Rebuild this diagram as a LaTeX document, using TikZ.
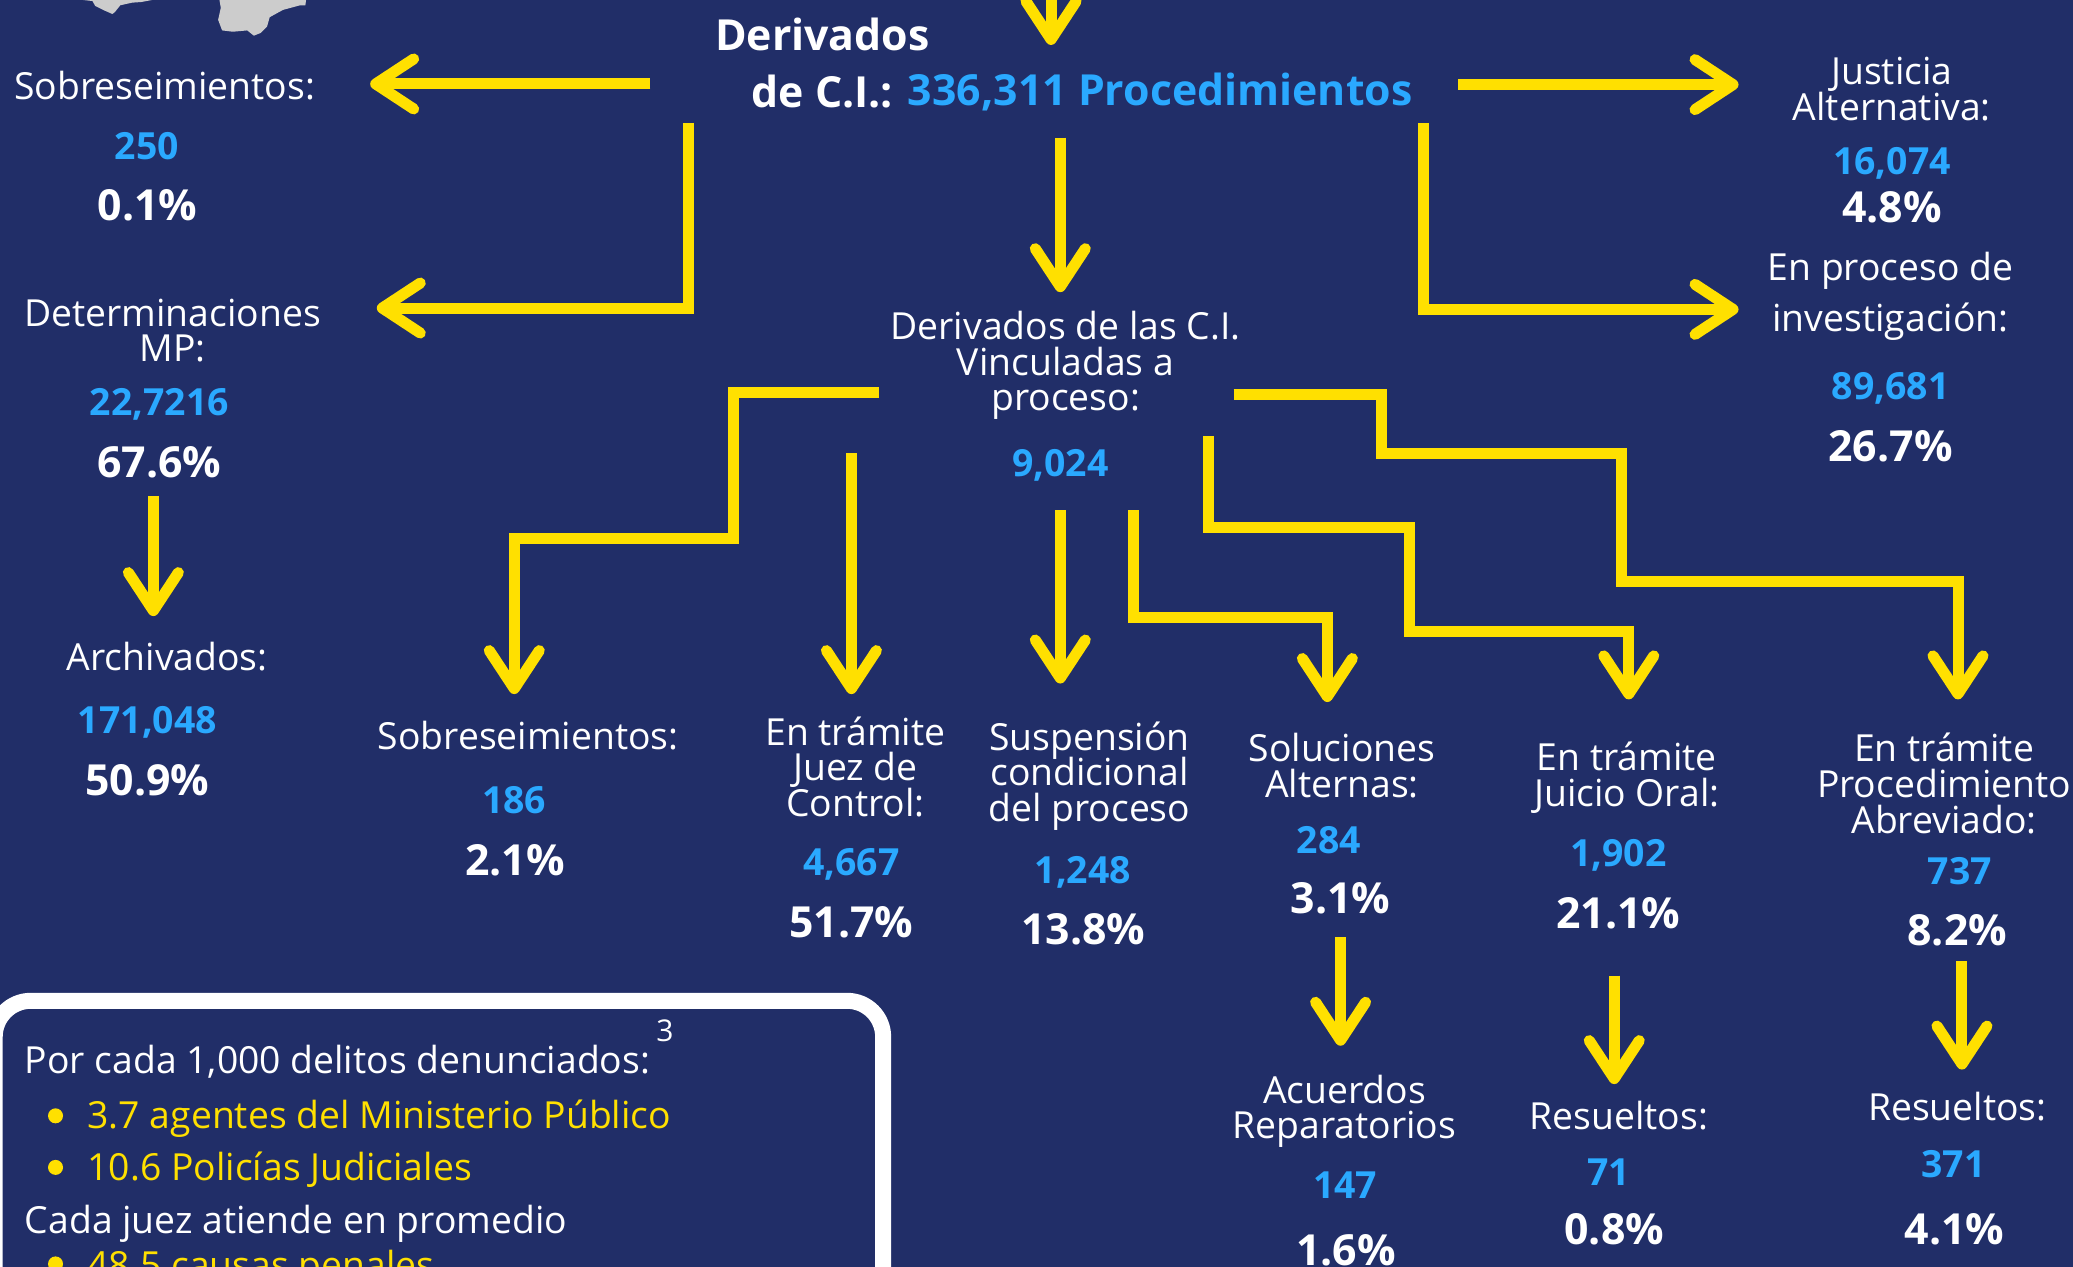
\documentclass[tikz,border=0pt]{standalone}
\usepackage{fontspec}
\setmainfont{Open Sans}
\usetikzlibrary{arrows.meta}
\definecolor{bgblue}{HTML}{212E68}
\definecolor{arrowyellow}{HTML}{FFE000}
\definecolor{numblue}{HTML}{2AA9FF}
\definecolor{mapgray}{HTML}{CCCCCC}
\newcommand{\lblfont}{\fontsize{18.65}{17.85}\selectfont\lineskiplimit=-100pt\relax}
\newcommand{\numfont}{\fontsize{18.7}{20}\selectfont\bfseries}
\newcommand{\pctfont}{\fontsize{21.4}{24}\selectfont\bfseries}
\newcommand{\headfont}{\fontsize{21.4}{24}\selectfont\bfseries}
\tikzset{
 x=0.661pt,y=-0.661pt,
 lbl/.style={inner sep=0,text=white,align=center,font=\lblfont},
 num/.style={inner sep=0,text=numblue,font=\numfont},
 pct/.style={inner sep=0,text=white,font=\pctfont},
 head/.style={inner sep=0,font=\headfont},
 flow/.style={draw=arrowyellow,line width=5.5pt,miter limit=10,-{Straight Barb[length=19pt,width=25pt,line width=5.5pt,round]}},
 boxtxt/.style={inner sep=0,anchor=west,text=white,font=\lblfont},
 boxbul/.style={inner sep=0,anchor=west,text=arrowyellow,font=\lblfont},
 dot/.style={circle,fill=arrowyellow,inner sep=0,minimum size=7.5pt},
 map/.style={fill=mapgray,draw=none},
}
\begin{document}
\begin{tikzpicture}
\clip (0,0) rectangle (1568,958);
\fill[bgblue] (0,0) rectangle (1568,958);
% map fragments
\fill[map] (63,0) -- (70,0.8) -- (72,4.5) -- (78,7.5) -- (85,10.6) -- (87,9) -- (91,4) -- (100,2) -- (107,1.5) -- (115,0) -- cycle;
\fill[map] (166,0) -- (167,6) -- (165,15) -- (168,23) -- (176,24) -- (187,23) -- (192,27) -- (197,25) -- (202,20) -- (204,13) -- (214,7.5) -- (227,4) -- (231,4) -- (231.5,0) -- cycle;
% texts
\node[head,text=white] (dertop) at (622,26) {Derivados};
\node[head,text=white] (derci) at (622,69.5) {de C.I.:};
\node[head,text=numblue] (dertotal) at (877.5,69.5) {336,311 Procedimientos};
\node[lbl] (sob1) at (124.5,64.5) {Sobreseimientos:};
\node[num] (sob1n) at (111,110.5) {250};
\node[pct] (sob1p) at (111.5,155.5) {0.1\%};
\node[lbl] (det) at (130.5,250) {Determinaciones\\MP:};
\node[num] (detn) at (120.5,305.5) {22,7216};
\node[pct] (detp) at (120.5,349.5) {67.6\%};
\node[lbl] (arc) at (126.5,496.5) {Archivados:};
\node[num] (arcn) at (111.5,546) {171,048};
\node[pct] (arcp) at (111.5,590.5) {50.9\%};
\node[lbl] (jus) at (1431,67.5) {Justicia\\Alternativa:};
\node[num] (jusn) at (1431,123.5) {16,074};
\node[pct] (jusp) at (1431,156.5) {4.8\%};
\node[lbl] (pro) at (1430,205) {En proceso de};
\node[lbl] (inv) at (1430,243.5) {investigación:};
\node[num] (invn) at (1430,293.5) {89,681};
\node[pct] (invp) at (1430,337.5) {26.7\%};
\node[lbl] (vin) at (806,276.5) {Derivados de las C.I.\\Vinculadas a\\proceso:};
\node[num] (vinn) at (802,352) {9,024};
\node[lbl] (sob2) at (399.5,556.5) {Sobreseimientos:};
\node[num] (sob2n) at (389,605) {186};
\node[pct] (sob2p) at (389.5,650.5) {2.1\%};
\node[lbl] (jue) at (647,580) {En trámite\\Juez de\\Control:};
\node[num] (juen) at (644,653.5) {4,667};
\node[pct] (juep) at (644,697.5) {51.7\%};
\node[lbl] (sus) at (824,587) {Suspensión\\condicional\\del proceso};
\node[num] (susn) at (819,659.5) {1,248};
\node[pct] (susp) at (819.5,703) {13.8\%};
\node[lbl] (sol) at (1015,579) {Soluciones\\Alternas:};
\node[num] (soln) at (1005,635.5) {284};
\node[pct] (solp) at (1014,679.5) {3.1\%};
\node[lbl] (ora) at (1230.5,588.5) {En trámite\\Juicio Oral:};
\node[num] (oran) at (1224,647) {1,902};
\node[pct] (orap) at (1224,690.5) {21.1\%};
\node[lbl] (abr) at (1470.5,592.5) {En trámite\\Procedimiento\\Abreviado:};
\node[num] (abrn) at (1482.5,659) {737};
\node[pct] (abrp) at (1480.5,703.5) {8.2\%};
\node[lbl] (acu) at (1017,840.5) {Acuerdos\\Reparatorios};
\node[num] (acun) at (1017.5,896.5) {147};
\node[pct] (acup) at (1018,945.5) {1.6\%};
\node[lbl] (rea) at (1224.5,843.5) {Resueltos:};
\node[num] (rean) at (1217,886.5) {71};
\node[pct] (reap) at (1221,929.5) {0.8\%};
\node[lbl] (reb) at (1480.5,837) {Resueltos:};
\node[num] (rebn) at (1477.5,880.5) {371};
\node[pct] (rebp) at (1478.5,929.5) {4.1\%};
% end points of connectors
\coordinate (a1s) at (492,63.5); \coordinate (a1e) at (280,63.5);
\coordinate (a2s) at (521,93); \coordinate (a2e) at (285,233);
\coordinate (a3s) at (802,104); \coordinate (a3e) at (802,221);
\coordinate (a4s) at (1103,64); \coordinate (a4e) at (1315,64);
\coordinate (a5s) at (1077,93); \coordinate (a5e) at (1315,234);
\coordinate (a6s) at (795,-20); \coordinate (a6e) at (795,34);
\coordinate (a7s) at (116,375); \coordinate (a7e) at (116,466);
\coordinate (a8s) at (665,297); \coordinate (a8e) at (389,525);
\coordinate (a9s) at (644,343); \coordinate (a9e) at (644,525);
\coordinate (a10s) at (802,386); \coordinate (a10e) at (802,517);
\coordinate (a11s) at (857,386); \coordinate (a11e) at (1004,531);
\coordinate (a12s) at (914,330); \coordinate (a12e) at (1232,529);
\coordinate (a13s) at (933,298.5); \coordinate (a13e) at (1481,529);
\coordinate (a14s) at (1014,709); \coordinate (a14e) at (1014,791);
\coordinate (a15s) at (1221,738); \coordinate (a15e) at (1221,820);
\coordinate (a16s) at (1484,727); \coordinate (a16e) at (1484,809);
% connectors
\draw[flow] (a1s) -- (a1e);
\draw[flow] (a2s) |- (a2e);
\draw[flow] (a3s) -- (a3e);
\draw[flow] (a4s) -- (a4e);
\draw[flow] (a5s) |- (a5e);
\draw[flow] (a6s) -- (a6e);
\draw[flow] (a7s) -- (a7e);
\draw[flow] (a8s) -- (555,297) -- (555,407) -- (389,407) -- (a8e);
\draw[flow] (a9s) -- (a9e);
\draw[flow] (a10s) -- (a10e);
\draw[flow] (a11s) -- (857,467) -- (1004,467) -- (a11e);
\draw[flow] (a12s) -- (914,399) -- (1066,399) -- (1066,478) -- (1232,478) -- (a12e);
\draw[flow] (a13s) -- (1045,298.5) -- (1045,343) -- (1226.5,343) -- (1226.5,439.5) -- (1481,439.5) -- (a13e);
\draw[flow] (a14s) -- (a14e);
\draw[flow] (a15s) -- (a15e);
\draw[flow] (a16s) -- (a16e);
% box
\draw[white,line width=8pt,rounded corners=18pt] (-4,757) rectangle (668,1100);
\node[boxtxt] (b1) at (18.5,803) {Por cada 1,000 delitos denunciados:};
\node[inner sep=0,text=white,font=\fontsize{15}{15}\selectfont] (b1s) at (503,779.5) {3};
\node[dot] (d1) at (42,844) {};
\node[boxbul] (b2) at (66,846.5) {3.7 agentes del Ministerio Público};
\node[dot] (d2) at (42,883) {};
\node[boxbul] (b3) at (66,885) {10.6 Policías Judiciales};
\node[boxtxt] (b4) at (18.5,926) {Cada juez atiende en promedio};
\node[dot] (d3) at (42,956) {};
\node[boxbul] (b5) at (66,960) {48.5 causas penales};
\end{tikzpicture}
\end{document}
